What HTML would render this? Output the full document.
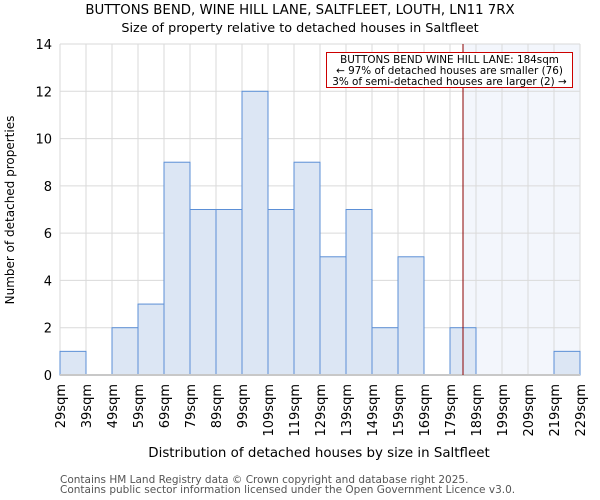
<!DOCTYPE html>
<html><head><meta charset="utf-8"><style>body{margin:0;background:#fff}svg{display:block;font-family:"DejaVu Sans","Liberation Sans",sans-serif}</style></head>
<body>
<svg id="c" width="600" height="500">
<text x="300" y="14" text-anchor="middle" font-size="13.3">BUTTONS BEND, WINE HILL LANE, SALTFLEET, LOUTH, LN11 7RX</text>
<text x="300" y="32" text-anchor="middle" font-size="12.8">Size of property relative to detached houses in Saltfleet</text>
<g id="plot"></g>
<text x="319" y="457" text-anchor="middle" font-size="13.4">Distribution of detached houses by size in Saltfleet</text>
<text transform="translate(14,210) rotate(-90)" text-anchor="middle" font-size="12">Number of detached properties</text>
<text x="60" y="483" font-size="10.5" fill="#555">Contains HM Land Registry data © Crown copyright and database right 2025.</text>
<text x="60" y="493" font-size="10.5" fill="#555">Contains public sector information licensed under the Open Government Licence v3.0.</text>
</svg>
<script>
const categories=["29sqm","39sqm","49sqm","59sqm","69sqm","79sqm","89sqm","99sqm","109sqm","119sqm","129sqm","139sqm","149sqm","159sqm","169sqm","179sqm","189sqm","199sqm","209sqm","219sqm","229sqm"];
const binStarts=[29,39,49,59,69,79,89,99,109,119,129,139,149,159,169,179,189,199,209,219];
const counts=[1,0,2,3,9,7,7,12,7,9,5,7,2,5,0,2,0,0,0,1];
const yTicks=[0,2,4,6,8,10,12,14];
const subjectSize=184;
const X0=60,X1=580,Y0=375,Y1=44,xmin=29,xmax=229,ymax=14;
const xs=v=>X0+(v-xmin)/(xmax-xmin)*(X1-X0);
const ys=v=>Y0-v/ymax*(Y0-Y1);
const NS="http://www.w3.org/2000/svg",g=document.getElementById('plot');
function mk(t,a){const e=document.createElementNS(NS,t);for(const k in a)e.setAttribute(k,a[k]);g.appendChild(e);return e;}
const sx=xs(subjectSize);
let e=mk('rect',{x:sx,y:Y1,width:X1-sx,height:Y0-Y1,fill:'#f3f6fc'});


yTicks.forEach(t=>{
 let l=mk('line',{x1:X0,x2:X1,y1:ys(t),y2:ys(t),stroke:'#dadada'});
 
 
 let tx=mk('text',{x:X0-8,y:ys(t)+5,'text-anchor':'end','font-size':'13'});tx.textContent=t;
 
 
});
categories.forEach((c,i)=>{
 const v=xmin+i*10,x=xs(v);
 let l=mk('line',{x1:x,x2:x,y1:Y1,y2:Y0,stroke:'#dadada'});
 
 
 let tx=mk('text',{transform:`translate(${x+5},384) rotate(-90)`,'text-anchor':'end','font-size':'13'});tx.textContent=c;
 
 
});
binStarts.forEach((b,i)=>{
 if(counts[i]<=0)return;
 const x=xs(b),w=xs(b+10)-x;
 let r=mk('rect',{x:x,y:ys(counts[i]),width:w,height:Y0-ys(counts[i]),fill:'#dce6f4',stroke:'#5b8fd6','stroke-width':1});
 
 
});
let ax=mk('line',{x1:X0,x2:X1,y1:Y0,y2:Y0,stroke:'#c8c8c8','stroke-width':2});


let rl=mk('line',{x1:sx,x2:sx,y1:Y1,y2:Y0,stroke:'#8b0000','stroke-width':1});


let bx=mk('rect',{x:326.5,y:52.5,width:246,height:35,fill:'#fff',stroke:'#cc0000','stroke-width':1});


["BUTTONS BEND WINE HILL LANE: 184sqm","← 97% of detached houses are smaller (76)","3% of semi-detached houses are larger (2) →"].forEach((s,i)=>{
 let t=mk('text',{x:449.5,y:63+i*11,'text-anchor':'middle','font-size':'10.4'});t.textContent=s;
 
 
});
</script>
</body></html>
